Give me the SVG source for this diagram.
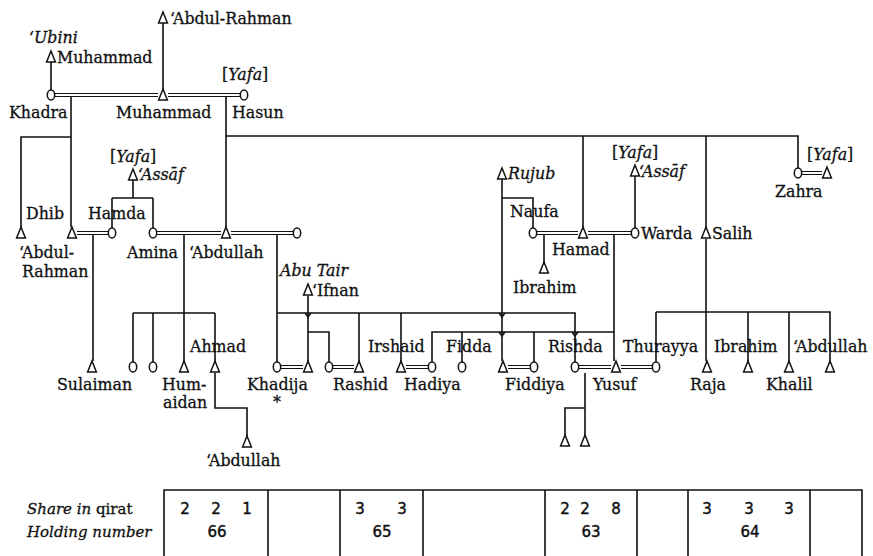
<svg xmlns="http://www.w3.org/2000/svg" xmlns:xlink="http://www.w3.org/1999/xlink" width="873" height="556" viewBox="0 0 873 556">
<style>
.ln{stroke:#111;stroke-width:1.6;fill:none}
.mr{stroke:#111;stroke-width:1.2;fill:none}
.sym{fill:#fff;stroke:#111;stroke-width:1.5}
text{font-family:"DejaVu Serif","Liberation Serif",serif;font-size:15.8px;fill:#111;stroke:#111;stroke-width:0.3}
.i{font-style:italic}
.tb{font-size:15px}
.num{font-family:"DejaVu Sans","Liberation Sans",sans-serif;font-size:15px;text-anchor:middle;stroke-width:0.45}
</style>
<defs>
<path id="tri" class="sym" d="M0,-6 L4.4,5 L-4.4,5 Z"/>
<ellipse id="cir" class="sym" rx="3.7" ry="5"/>
</defs>
<rect width="873" height="556" fill="#fff"/>
<g id="connectors">
<!-- descent lines -->
<path class="ln" d="M51,62 V90 M163,23 V89"/>
<path class="ln" d="M71,97 V227 M71,137 H21 V227"/>
<path class="ln" d="M226,97 V227 M226,136 H798 V168 M583,136 V227 M706,136 V227"/>
<path class="ln" d="M133,180 V198 M112,198 H153 M112,198 V228 M153,198 V228"/>
<path class="ln" d="M93,235 V361"/>
<path class="ln" d="M184,235 V361 M133,313 H215 M133,313 V362 M153,313 V362 M215,313 V361"/>
<path class="ln" d="M215,373 V408 H247 V436"/>
<path class="ln" d="M277,235 V362 M277,313 H575 V362 M359,313 V361 M401,313 V361"/>
<path class="ln" d="M308,296 V361 M308,332 H329 V362"/>
<path class="ln" d="M502,179 V361 M502,198 H533 V228"/>
<path class="ln" d="M544,235 V262"/>
<path class="ln" d="M635,176 V228"/>
<path class="ln" d="M614,235 V361 M614,332 H432 V362 M462,332 V362 M534,332 V362"/>
<path class="ln" d="M706,239 V361 M656,312 H830 V361 M656,312 V362 M748,312 V361 M789,312 V361"/>
<path class="ln" d="M585,373 V435 M585,408 H565 V435"/>
<!-- crossing marks -->
<path class="ln" d="M305,313 L308,317 L311,313 M499,313 L502,317 L505,313 M499,332 L502,336 L505,332 M572,332 L575,336 L578,332"/>
<!-- marriage double lines -->
<path class="mr" d="M55,93.5 H158 M55,96.5 H158"/>
<path class="mr" d="M168,93.5 H240 M168,96.5 H240"/>
<path class="mr" d="M77,231.5 H108 M77,234.5 H108"/>
<path class="mr" d="M157,231.5 H221 M157,234.5 H221"/>
<path class="mr" d="M231,231.5 H293 M231,234.5 H293"/>
<path class="mr" d="M537,231.5 H578 M537,234.5 H578"/>
<path class="mr" d="M588,231.5 H631 M588,234.5 H631"/>
<path class="mr" d="M802,171.5 H822 M802,174.5 H822"/>
<path class="mr" d="M281,365.5 H303 M281,368.5 H303"/>
<path class="mr" d="M333,365.5 H354 M333,368.5 H354"/>
<path class="mr" d="M406,365.5 H428 M406,368.5 H428"/>
<path class="mr" d="M508,365.5 H530 M508,368.5 H530"/>
<path class="mr" d="M579,365.5 H611 M579,368.5 H611"/>
<path class="mr" d="M621,365.5 H652 M621,368.5 H652"/>
</g>
<g id="n-abdulrahman-top"><use href="#tri" x="163" y="18"/><text x="170" y="24">‘Abdul-Rahman</text></g>
<g id="n-muhammad-ubini"><text class="i" x="29" y="43">‘Ubini</text><use href="#tri" x="51" y="57"/><text x="57" y="63">Muhammad</text></g>
<g id="n-khadra"><use href="#cir" x="51" y="95"/><text x="9" y="118">Khadra</text></g>
<g id="n-muhammad"><use href="#tri" x="163" y="95"/><text x="116" y="118">Muhammad</text></g>
<g id="n-hasun"><use href="#cir" x="244" y="95"/><text x="222" y="80">[<tspan class="i">Yafa</tspan>]</text><text x="232" y="118">Hasun</text></g>
<g id="n-dhib"><use href="#tri" x="21" y="233"/><text x="26" y="219">Dhib</text></g>
<g id="n-abdulrahman"><use href="#tri" x="72" y="233"/><text x="19" y="258">‘Abdul-</text><text x="22" y="277">Rahman</text></g>
<g id="n-assaf1"><text x="110" y="162">[<tspan class="i">Yafa</tspan>]</text><use href="#tri" x="133" y="175"/><text class="i" x="138" y="180">‘Assāf</text></g>
<g id="n-hamda"><use href="#cir" x="112" y="233"/><text x="88" y="219">Hamda</text></g>
<g id="n-amina"><use href="#cir" x="153" y="233"/><text x="127" y="258">Amina</text></g>
<g id="n-abdullah"><use href="#tri" x="226" y="233"/><text x="189" y="258">‘Abdullah</text></g>
<g id="n-wife-abdullah"><use href="#cir" x="297" y="233"/></g>
<g id="n-rujub"><use href="#tri" x="502" y="174"/><text class="i" x="508" y="179">Rujub</text></g>
<g id="n-naufa"><use href="#cir" x="533" y="233"/><text x="510" y="217">Naufa</text></g>
<g id="n-hamad"><use href="#tri" x="583" y="233"/><text x="552" y="255">Hamad</text></g>
<g id="n-assaf2"><text x="612" y="158">[<tspan class="i">Yafa</tspan>]</text><use href="#tri" x="635" y="171"/><text class="i" x="639" y="177">‘Assāf</text></g>
<g id="n-warda"><use href="#cir" x="635" y="233"/><text x="641" y="239">Warda</text></g>
<g id="n-salih"><use href="#tri" x="706" y="233"/><text x="712" y="239">Salih</text></g>
<g id="n-zahra"><use href="#cir" x="798" y="173"/><text x="775" y="197">Zahra</text></g>
<g id="n-zahra-husband"><use href="#tri" x="827" y="173"/><text x="807" y="160">[<tspan class="i">Yafa</tspan>]</text></g>
<g id="n-ibrahim-naufa"><use href="#tri" x="544" y="268"/><text x="513" y="293">Ibrahim</text></g>
<g id="n-ifnan"><text class="i" x="280" y="276">Abu Tair</text><use href="#tri" x="308" y="290"/><text x="312" y="296">‘Ifnan</text></g>
<g id="n-sulaiman"><use href="#tri" x="92" y="367"/><text x="57" y="390">Sulaiman</text></g>
<g id="n-daughter1"><use href="#cir" x="133" y="367"/></g>
<g id="n-daughter2"><use href="#cir" x="153" y="367"/></g>
<g id="n-humaidan"><use href="#tri" x="184" y="367"/><text x="162" y="390">Hum-</text><text x="163" y="408">aidan</text></g>
<g id="n-ahmad"><use href="#tri" x="215" y="367"/><text x="190" y="352">Ahmad</text></g>
<g id="n-khadija"><use href="#cir" x="277" y="367"/><text x="247" y="390">Khadija</text><text x="277" y="408" text-anchor="middle">*</text></g>
<g id="n-khadija-husband"><use href="#tri" x="308" y="367"/></g>
<g id="n-rashid-wife"><use href="#cir" x="329" y="367"/></g>
<g id="n-rashid"><use href="#tri" x="359" y="367"/><text x="333" y="390">Rashid</text></g>
<g id="n-irshaid"><use href="#tri" x="401" y="367"/><text x="368" y="352">Irshaid</text></g>
<g id="n-hadiya"><use href="#cir" x="432" y="367"/><text x="404" y="390">Hadiya</text></g>
<g id="n-fidda"><use href="#cir" x="462" y="367"/><text x="446" y="352">Fidda</text></g>
<g id="n-fiddiya-husband"><use href="#tri" x="503" y="367"/></g>
<g id="n-fiddiya"><use href="#cir" x="534" y="367"/><text x="505" y="390">Fiddiya</text></g>
<g id="n-rishda"><use href="#cir" x="575" y="367"/><text x="548" y="352">Rishda</text></g>
<g id="n-yusuf"><use href="#tri" x="616" y="367"/><text x="593" y="390">Yusuf</text></g>
<g id="n-thurayya"><use href="#cir" x="656" y="367"/><text x="623" y="352">Thurayya</text></g>
<g id="n-raja"><use href="#tri" x="707" y="367"/><text x="690" y="390">Raja</text></g>
<g id="n-ibrahim-salih"><use href="#tri" x="748" y="367"/><text x="714" y="352">Ibrahim</text></g>
<g id="n-khalil"><use href="#tri" x="789" y="367"/><text x="766" y="390">Khalil</text></g>
<g id="n-abdullah-salih"><use href="#tri" x="830" y="367"/><text x="793" y="352">‘Abdullah</text></g>
<g id="n-abdullah-ahmad"><use href="#tri" x="247" y="442"/><text x="206" y="466">‘Abdullah</text></g>
<g id="n-son-rishda1"><use href="#tri" x="565" y="441"/></g>
<g id="n-son-rishda2"><use href="#tri" x="585" y="441"/></g>
<g id="table">
<path class="ln" d="M164,556 V490 H862 V556 M268,490 V556 M340,490 V556 M423,490 V556 M545,490 V556 M637,490 V556 M688,490 V556 M810,490 V556"/>
<text class="tb" x="27" y="514"><tspan class="i">Share in</tspan> qirat</text>
<text class="tb i" x="27" y="537">Holding number</text>
<text class="num" x="185" y="514">2</text><text class="num" x="216" y="514">2</text><text class="num" x="247" y="514">1</text>
<text class="num" x="360" y="514">3</text><text class="num" x="402" y="514">3</text>
<text class="num" x="565" y="514">2</text><text class="num" x="585" y="514">2</text><text class="num" x="616" y="514">8</text>
<text class="num" x="707" y="514">3</text><text class="num" x="749" y="514">3</text><text class="num" x="789" y="514">3</text>
<text class="num" x="217" y="537">66</text><text class="num" x="382" y="537">65</text><text class="num" x="591" y="537">63</text><text class="num" x="750" y="537">64</text>
</g>
</svg>
